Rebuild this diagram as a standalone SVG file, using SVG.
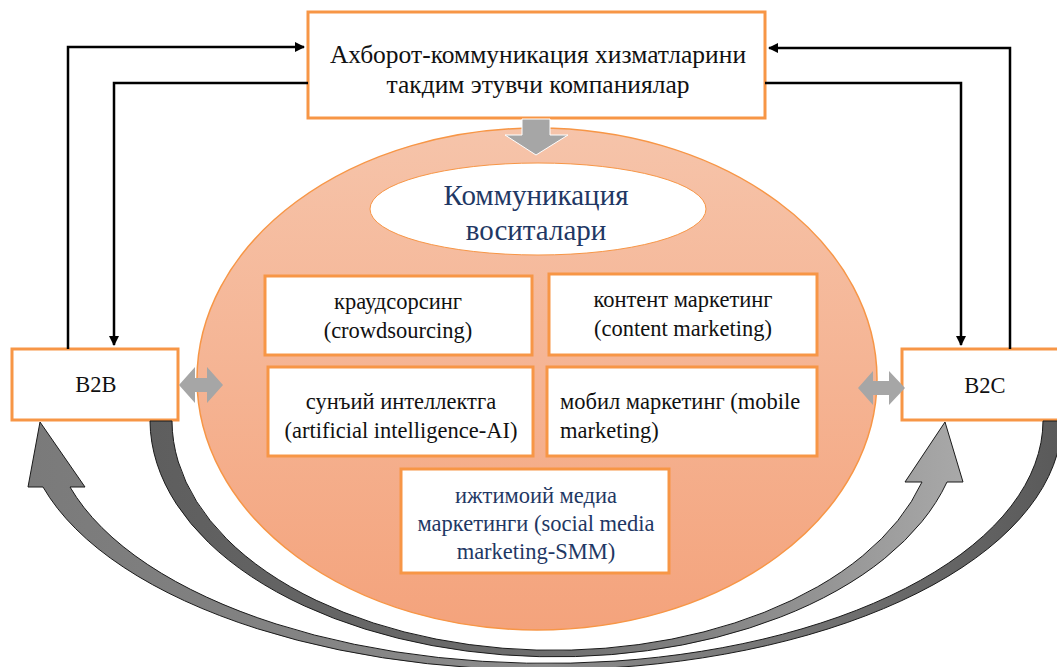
<svg xmlns="http://www.w3.org/2000/svg" width="1057" height="667" viewBox="0 0 1057 667">
  <defs>
    <linearGradient id="gEll" x1="0" y1="0" x2="0" y2="1">
      <stop offset="0" stop-color="#F6C4AA"/>
      <stop offset="1" stop-color="#F4A37C"/>
    </linearGradient>
    <linearGradient id="gArcA" gradientUnits="userSpaceOnUse" x1="150" y1="0" x2="960" y2="0">
      <stop offset="0" stop-color="#5E5E5E"/>
      <stop offset="0.5" stop-color="#6E6E6E"/>
      <stop offset="1" stop-color="#A8A8A8"/>
    </linearGradient>
    <linearGradient id="gArcB" gradientUnits="userSpaceOnUse" x1="1060" y1="0" x2="30" y2="0">
      <stop offset="0" stop-color="#5A5A5A"/>
      <stop offset="0.5" stop-color="#8C8C8C"/>
      <stop offset="1" stop-color="#7A7A7A"/>
    </linearGradient>
    <marker id="ah" viewBox="0 0 10 10" refX="9" refY="5" markerWidth="4" markerHeight="4" orient="auto" markerUnits="strokeWidth">
      <path d="M0,0 L10,5 L0,10 z" fill="#000"/>
    </marker>
    <style>
      .box { fill: #FFFFFF; stroke: #F79646; stroke-width: 3; }
      .t { font-family: "Liberation Serif", "Times New Roman", serif; font-size: 22.5px; fill: #111111; }
      .big { font-size: 25.5px; }
      .title { font-size: 29px; }
      .c { text-anchor: middle; }
      .navy { fill: #1F3864; }
      .conn { fill: none; stroke: #000; stroke-width: 2.5; }
      .gray { fill: #A6A6A6; }
      .arc { stroke: #1A1A1A; stroke-width: 1; }
    </style>
  </defs>

  <!-- big ellipse -->
  <g id="ellipse-main">
    <ellipse cx="537" cy="379" rx="340" ry="251" fill="url(#gEll)" stroke="#F79646" stroke-width="1.5"/>
  </g>

  <!-- top box -->
  <g id="top-box">
    <rect class="box" x="308" y="12" width="457" height="106" stroke-width="2.5"/>
    <text class="t big c" x="538" y="63">Ахборот-коммуникация хизматларини</text>
    <text class="t big c" x="538" y="93">такдим этувчи компаниялар</text>
  </g>

  <g id="title-ellipse">
    <ellipse cx="538" cy="209" rx="168" ry="46" fill="#FFFFFF" stroke="#F79646" stroke-width="1"/>
    <text class="t title c navy" x="536" y="205">Коммуникация</text>
    <text class="t title c navy" x="536" y="240">воситалари</text>
  </g>

  <g id="crowdsourcing">
    <rect class="box" x="265" y="276" width="267" height="79"/>
    <text class="t c" x="398" y="309">краудсорсинг</text>
    <text class="t c" x="398" y="338">(crowdsourcing)</text>
  </g>
  <g id="content-marketing">
    <rect class="box" x="549" y="274" width="268" height="81"/>
    <text class="t c" x="683" y="307">контент маркетинг</text>
    <text class="t c" x="683" y="336">(content marketing)</text>
  </g>
  <g id="ai">
    <rect class="box" x="268" y="367" width="265" height="89"/>
    <text class="t c" x="401" y="409">сунъий интеллектга</text>
    <text class="t c" x="401" y="438">(artificial intelligence-AI)</text>
  </g>
  <g id="mobile-marketing">
    <rect class="box" x="547" y="367" width="270" height="89"/>
    <text class="t" x="560" y="409">мобил маркетинг (mobile</text>
    <text class="t" x="560" y="438">marketing)</text>
  </g>
  <g id="smm">
    <rect class="box" x="401" y="469" width="268" height="104"/>
    <text class="t c navy" x="536" y="503">ижтимоий медиа</text>
    <text class="t c navy" x="536" y="531">маркетинги (social media</text>
    <text class="t c navy" x="536" y="559">marketing-SMM)</text>
  </g>

  <g id="b2b">
    <rect class="box" x="12" y="349" width="166" height="71"/>
    <text class="t c" x="96" y="392">B2B</text>
  </g>
  <g id="b2c">
    <rect class="box" x="902" y="349" width="170" height="71"/>
    <text class="t c" x="985" y="393">B2C</text>
  </g>

  <g id="connectors">
    <path class="conn" d="M68,349 V47 H304" marker-end="url(#ah)"/>
    <path class="conn" d="M308,83 H114 V345" marker-end="url(#ah)"/>
    <path class="conn" d="M1010,349 V48 H769" marker-end="url(#ah)"/>
    <path class="conn" d="M765,83 H961 V345" marker-end="url(#ah)"/>
    <!-- top block arrow -->
    <path class="gray" d="M522,119 H550 V135 H568 L536,155 L505,135 H522 Z" stroke="#FFFFFF" stroke-width="1"/>
    <!-- double arrows -->
    <path class="gray" d="M179,385 L195,367 V378 H207 V367 L223,385 L207,403 V392 H195 V403 Z"/>
    <path class="gray" d="M858,388 L873,371 V381 H889 V371 L905,388 L889,405 V395 H873 V405 Z"/>
    <!-- curved arrow B2B -> B2C -->
    <path class="arc" fill="url(#gArcA)" d="M150,421 A405.6 237 0 0 0 947,482 L963,482 L945,422 L905,482 L922,482 A382 230 0 0 1 172,421 Z"/>
    <!-- curved arrow B2C -> B2B -->
    <path class="arc" fill="url(#gArcB)" d="M1062,421 A519 250 0 0 1 43,487 L28,487 L40,422 L85,487 L70,487 A496 243 0 0 0 1043,421 Z"/>
  </g>
</svg>
